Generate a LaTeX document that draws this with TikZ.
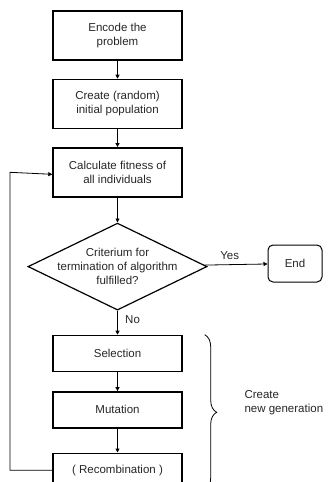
\documentclass[tikz,border=0pt]{standalone}
\usepackage{fontspec}
\setmainfont{Liberation Sans}
\usepackage{tikz}
\usetikzlibrary{positioning,shapes.geometric,arrows.meta,decorations.pathreplacing}

\begin{document}
\begin{tikzpicture}[
    x=1pt, y=1pt,
    node distance=18pt,
    every node/.style={font=\fontsize{11.5}{14}\selectfont, text=black!85},
    stepbox/.style={draw, line width=1.4pt, minimum width=129pt, minimum height=49pt,
                    align=center, inner sep=0pt},
    genbox/.style={stepbox, minimum height=36pt},
    decision/.style={draw, line width=1.2pt, shape=diamond, minimum width=179pt,
                     minimum height=87pt, inner sep=0pt},
    endbox/.style={draw, line width=1pt, rounded corners=5pt, minimum width=54pt,
                   minimum height=37pt},
    arrow/.style={-{Triangle[length=4pt,width=4pt]}, line width=0.8pt},
    lbl/.style={font=\fontsize{11.5}{14}\selectfont}
]
\useasboundingbox (0,0) rectangle (331,-482);

% Main column
\node[stepbox] (encode) at (117.5,-35.5) {Encode the\\problem};
\node[stepbox, below=of encode] (init) {Create (random)\\initial population};
\node[stepbox, below=of init] (fit) {Calculate fitness of\\all individuals};

% Decision
\node[decision, below=25pt of fit] (crit) {};
\node[align=center] at (crit) {Criterium for\\termination of algorithm\\fulfilled?};
\node[endbox] (end) at (295,-263.5) {End};

% New generation
\node[genbox, below=24pt of crit] (select) {Selection};
\node[genbox, below=19pt of select] (mutate) {Mutation};
\node[genbox, below=24pt of mutate, minimum height=34pt] (recomb) {( Recombination )};

% Arrows
\draw[arrow] (encode) -- (init);
\draw[arrow] (init) -- (fit);
\draw[arrow] (fit) -- (crit);
\draw[arrow] (crit) -- node[above, pos=0.4, yshift=1pt] {Yes} (end);
\draw[arrow] (crit) -- node[right, pos=0.35, xshift=4pt] {No} (select);
\draw[arrow] (select) -- (mutate);
\draw[arrow] (mutate) -- (recomb);

% Loop back to fitness
\coordinate (back) at (10,0);
\draw[arrow] (recomb.west) -| (back |- fit.west) -- ([yshift=-2pt]fit.west);

% Brace
\draw[line width=0.8pt, decorate, decoration={brace, amplitude=12pt}]
    ([xshift=22pt]select.north east) -- ([xshift=22pt,yshift=-2pt]recomb.south east)
    coordinate[midway] (mid);
\node[align=left, anchor=west] (gen) at (241,-403) {Create\\new generation};

\end{tikzpicture}
\end{document}
